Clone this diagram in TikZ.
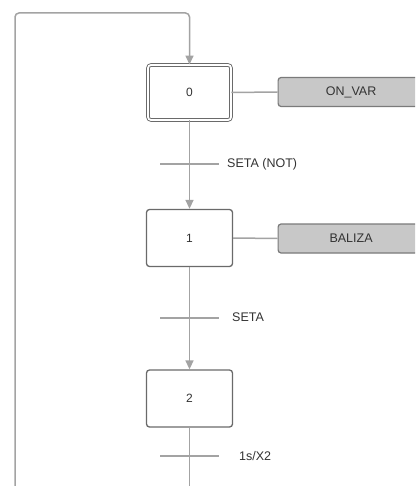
\documentclass[tikz,border=0pt]{standalone}
\usepackage{fontspec}
\setmainfont{Liberation Sans}
\usetikzlibrary{arrows.meta}
\definecolor{conn}{HTML}{A3A3A3}
\definecolor{boxline}{HTML}{6A6A6A}
\definecolor{actfill}{HTML}{C8C8C8}
\definecolor{actline}{HTML}{7A7A7A}
\definecolor{txt}{HTML}{333333}
\tikzset{
  stepbox/.style={draw=boxline, line width=1.3pt, rounded corners=3pt, fill=white,
    minimum width=86pt, minimum height=57pt, inner sep=0pt, text=txt,
    font=\fontsize{12}{14}\selectfont},
  initbox/.style={draw=boxline, double, double distance=1.8pt, line width=0.9pt,
    rounded corners=3pt, fill=white, minimum width=83pt, minimum height=55pt,
    inner sep=0pt, text=txt, font=\fontsize{12}{14}\selectfont},
  actbox/.style={draw=actline, line width=1.2pt, rounded corners=3pt, fill=actfill,
    minimum width=146pt, minimum height=29pt, inner sep=0pt, anchor=west, text=txt,
    font=\fontsize{12.5}{15}\selectfont},
  conline/.style={draw=conn, line width=1.5pt},
  arr/.style={conline, -{Triangle[width=8pt,length=9pt]}},
  tbar/.style={minimum width=58pt, minimum height=0pt, inner sep=0pt},
  tlabel/.style={anchor=west, text=txt, inner sep=0pt, font=\fontsize{12.5}{15}\selectfont},
}
\begin{document}
\begin{tikzpicture}[x=1pt,y=-1pt]
\clip (0,0) rectangle (415,486);
\fill[white] (0,0) rectangle (415,486);
% steps
\node[initbox] (s0) at (189.5,92.5) {0};
\node[stepbox] (s1) at (189.5,238) {1};
\node[stepbox] (s2) at (189.5,398.5) {2};
% actions
\node[actbox] (a0) at (277.5,92) {ON\_VAR};
\node[actbox] (a1) at (277.5,238.5) {BALIZA};
\draw[conline] (s0.east) -- (a0.west);
\draw[conline] (s1.east) -- (a1.west);
% transitions
\node[tbar] (t1) at (189.5,164) {};
\node[tbar] (t2) at (189.5,318) {};
\node[tbar] (t3) at (189.5,456) {};
\draw[conline] (t1.west) -- (t1.east);
\draw[conline] (t2.west) -- (t2.east);
\draw[conline] (t3.west) -- (t3.east);
\node[tlabel] (l1) at (227,164) {SETA (NOT)};
\node[tlabel] (l2) at (232,317.5) {SETA};
\node[tlabel] (l3) at (239,456) {1s/X2};
% links
\draw[arr] (s0.south) -- (s1.north);
\draw[arr] (s1.south) -- (s2.north);
\coordinate (bot) at (189.5,495);
\draw[conline] (s2.south) -- (bot);
\coordinate (lb) at (15,495);
\coordinate (top) at (189.5,13);
\draw[arr, rounded corners=4pt] (lb) -- (15,13) -- (top) -- (s0.north);
\end{tikzpicture}
\end{document}
